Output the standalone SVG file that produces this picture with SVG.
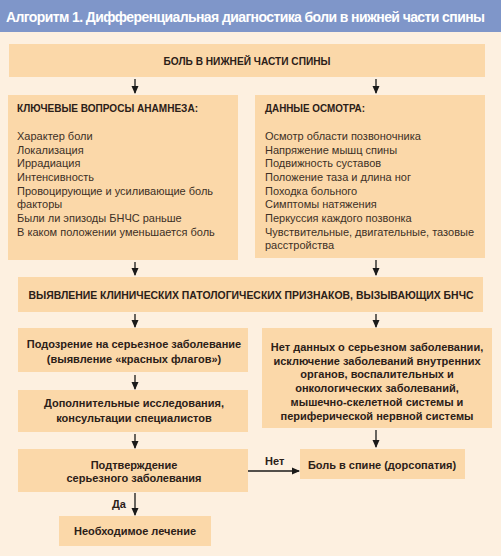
<svg xmlns="http://www.w3.org/2000/svg" width="501" height="556" viewBox="0 0 501 556">
<defs>
<marker id="ah" markerWidth="8" markerHeight="8" refX="7" refY="4" orient="auto" markerUnits="userSpaceOnUse">
<path d="M0,0.5 L8,4 L0,7.5 Z" fill="#1a1a1a"/>
</marker>
<style>
.box{fill:#fbd8a9}
.t{font-family:"Liberation Sans","DejaVu Sans",sans-serif;fill:#2b2018}
.b{font-weight:bold;font-size:11px}
.n{font-size:11px;fill:#3d3026}
.c{text-anchor:middle}
.ttl{font-family:"Liberation Sans",sans-serif;font-weight:bold;font-size:14px;letter-spacing:-0.6px;fill:#ffffff}
.ln{stroke:#1a1a1a;stroke-width:1.3;fill:none;marker-end:url(#ah)}
</style>
</defs>
<rect x="0" y="0" width="501" height="556" fill="#fdf0e0"/>
<rect x="0" y="0" width="501" height="32" fill="#7f96c9"/>
<text class="ttl" x="6" y="22">Алгоритм 1. Дифференциальная диагностика боли в нижней части спины</text>

<g id="n1"><rect class="box" x="9" y="44" width="476" height="33"/>
<text class="t b c" x="247" y="65" textLength="167" lengthAdjust="spacingAndGlyphs">БОЛЬ В НИЖНЕЙ ЧАСТИ СПИНЫ</text></g>

<g id="n2"><rect class="box" x="8" y="95" width="230" height="165"/>
<text class="t b" x="17" y="112" textLength="181" lengthAdjust="spacingAndGlyphs">КЛЮЧЕВЫЕ ВОПРОСЫ АНАМНЕЗА:</text>
<text class="t n" x="17" y="140">Характер боли</text>
<text class="t n" x="17" y="154">Локализация</text>
<text class="t n" x="17" y="167">Иррадиация</text>
<text class="t n" x="17" y="181">Интенсивность</text>
<text class="t n" x="17" y="195">Провоцирующие и усиливающие боль</text>
<text class="t n" x="17" y="208">факторы</text>
<text class="t n" x="17" y="222">Были ли эпизоды БНЧС раньше</text>
<text class="t n" x="17" y="236">В каком положении уменьшается боль</text></g>

<g id="n3"><rect class="box" x="255" y="95" width="230" height="163"/>
<text class="t b" x="265" y="112" textLength="100" lengthAdjust="spacingAndGlyphs">ДАННЫЕ ОСМОТРА:</text>
<text class="t n" x="265" y="140">Осмотр области позвоночника</text>
<text class="t n" x="265" y="154">Напряжение мышц спины</text>
<text class="t n" x="265" y="167">Подвижность суставов</text>
<text class="t n" x="265" y="181">Положение таза и длина ног</text>
<text class="t n" x="265" y="195">Походка больного</text>
<text class="t n" x="265" y="208">Симптомы натяжения</text>
<text class="t n" x="265" y="222">Перкуссия каждого позвонка</text>
<text class="t n" x="265" y="236">Чувствительные, двигательные, тазовые</text>
<text class="t n" x="265" y="249">расстройства</text></g>

<g id="n4"><rect class="box" x="18" y="277" width="465" height="35"/>
<text class="t b c" x="251" y="299" textLength="445" lengthAdjust="spacingAndGlyphs">ВЫЯВЛЕНИЕ КЛИНИЧЕСКИХ ПАТОЛОГИЧЕСКИХ ПРИЗНАКОВ, ВЫЗЫВАЮЩИХ БНЧС</text></g>

<g id="n5"><rect class="box" x="18" y="328" width="230" height="44"/>
<text class="t b c" x="134" y="348">Подозрение на серьезное заболевание</text>
<text class="t b c" x="134" y="363">(выявление «красных флагов»)</text></g>

<g id="n6"><rect class="box" x="262" y="328" width="230" height="100"/>
<text class="t b c" x="377" y="351">Нет данных о серьезном заболевании,</text>
<text class="t b c" x="377" y="365">исключение заболеваний внутренних</text>
<text class="t b c" x="377" y="378">органов, воспалительных и</text>
<text class="t b c" x="377" y="392">онкологических заболеваний,</text>
<text class="t b c" x="377" y="406">мышечно-скелетной системы и</text>
<text class="t b c" x="377" y="420">периферической нервной системы</text></g>

<g id="n7"><rect class="box" x="18" y="390" width="230" height="42"/>
<text class="t b c" x="134" y="407">Дополнительные исследования,</text>
<text class="t b c" x="134" y="422">консультации специалистов</text></g>

<g id="n8"><rect class="box" x="18" y="449" width="230" height="43"/>
<text class="t b c" x="134" y="469">Подтверждение</text>
<text class="t b c" x="134" y="482">серьезного заболевания</text></g>

<g id="n9"><rect class="box" x="300" y="449" width="165" height="30"/>
<text class="t b c" x="382" y="469">Боль в спине (дорсопатия)</text></g>

<g id="n10"><rect class="box" x="59" y="516" width="152" height="30"/>
<text class="t b c" x="135" y="535">Необходимое лечение</text></g>

<g id="edges">
<line class="ln" x1="135" y1="79" x2="135" y2="93"/>
<line class="ln" x1="376" y1="79" x2="376" y2="93"/>
<line class="ln" x1="135" y1="262" x2="135" y2="275"/>
<line class="ln" x1="376" y1="260" x2="376" y2="275"/>
<line class="ln" x1="135" y1="314" x2="135" y2="327"/>
<line class="ln" x1="376" y1="314" x2="376" y2="327"/>
<line class="ln" x1="135" y1="375" x2="135" y2="389"/>
<line class="ln" x1="135" y1="434" x2="135" y2="448"/>
<line class="ln" x1="376" y1="430" x2="376" y2="447"/>
<line class="ln" x1="248" y1="471" x2="299" y2="471"/>
<line class="ln" x1="135" y1="493" x2="135" y2="515"/>
<text class="t b" x="265" y="465">Нет</text>
<text class="t b" x="112" y="508">Да</text>
</g>
</svg>
